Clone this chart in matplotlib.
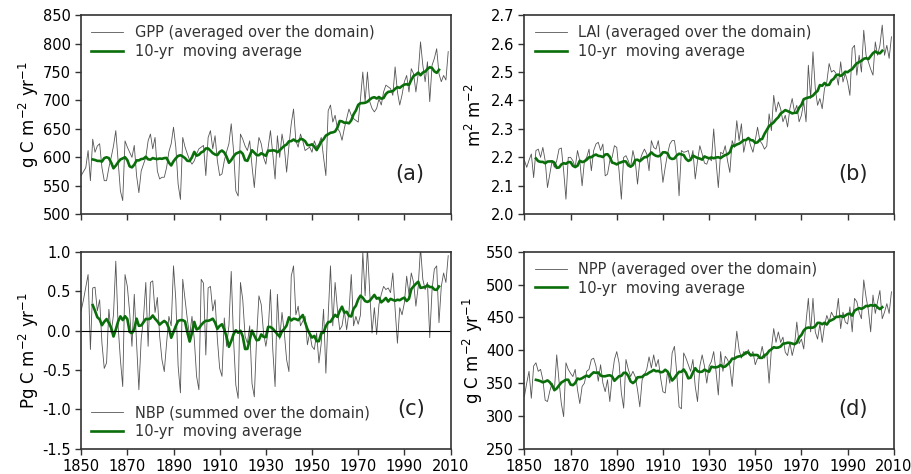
import numpy as np
import pandas as pd
import matplotlib
matplotlib.use("Agg")
import matplotlib.pyplot as plt

years = np.arange(1850, 2010)

# GPP, annual, g C m-2 yr-1
gpp = [568, 575, 582, 612, 559, 632, 609, 620, 624, 582,
       559, 559, 582, 600, 620, 647, 594, 541, 524, 629,
       618, 609, 600, 621, 568, 538, 576, 588, 600, 629,
       641, 615, 635, 576, 562, 565, 565, 582, 610, 624,
       653, 618, 553, 526, 635, 618, 606, 595, 588, 594,
       606, 615, 618, 621, 568, 635, 647, 615, 638, 594,
       568, 571, 594, 610, 624, 659, 612, 541, 532, 641,
       632, 620, 612, 629, 585, 547, 600, 635, 624, 600,
       588, 618, 647, 606, 562, 638, 600, 641, 618, 574,
       620, 659, 685, 629, 618, 641, 629, 612, 615, 618,
       609, 629, 618, 624, 635, 600, 568, 682, 692, 662,
       674, 651, 645, 630, 651, 668, 685, 674, 668, 665,
       662, 703, 750, 698, 750, 698, 686, 680, 686, 703,
       692, 715, 727, 724, 721, 709, 759, 715, 692, 710,
       733, 744, 715, 756, 747, 715, 747, 803, 762, 733,
       768, 698, 762, 774, 791, 747, 733, 744, 736, 786]

# LAI, annual, m2 m-2
lai = [2.19, 2.165, 2.19, 2.212, 2.129, 2.224, 2.229, 2.2, 2.235, 2.188,
       2.094, 2.141, 2.188, 2.165, 2.188, 2.229, 2.233, 2.153, 2.053, 2.2,
       2.2, 2.188, 2.165, 2.224, 2.188, 2.1, 2.188, 2.2, 2.229, 2.153,
       2.224, 2.247, 2.253, 2.224, 2.247, 2.135, 2.141, 2.188, 2.2, 2.241,
       2.235, 2.153, 2.053, 2.2, 2.206, 2.188, 2.165, 2.224, 2.188, 2.106,
       2.188, 2.212, 2.229, 2.212, 2.153, 2.259, 2.235, 2.229, 2.259, 2.2,
       2.112, 2.165, 2.212, 2.247, 2.259, 2.259, 2.2, 2.065, 2.224, 2.218,
       2.22, 2.224, 2.188, 2.224, 2.124, 2.188, 2.241, 2.212, 2.18, 2.176,
       2.2, 2.188, 2.3, 2.188, 2.094, 2.218, 2.212, 2.241, 2.188, 2.147,
       2.259, 2.235, 2.329, 2.259, 2.318, 2.218, 2.259, 2.271, 2.241, 2.218,
       2.26, 2.306, 2.259, 2.247, 2.229, 2.24, 2.353, 2.294, 2.418, 2.36,
       2.395, 2.371, 2.325, 2.348, 2.307, 2.371, 2.407, 2.36, 2.383, 2.325,
       2.348, 2.395, 2.325, 2.524, 2.407, 2.571, 2.442, 2.383, 2.407, 2.371,
       2.442, 2.465, 2.53, 2.5, 2.506, 2.495, 2.454, 2.536, 2.465, 2.495,
       2.465, 2.418, 2.583, 2.594, 2.489, 2.559, 2.5, 2.647, 2.559, 2.536,
       2.51, 2.489, 2.606, 2.559, 2.594, 2.665, 2.559, 2.594, 2.548, 2.624]

# NBP, annual
nbp = [0.25, 0.39, 0.55, 0.71, -0.24, 0.54, 0.55, 0.25, 0.39, -0.16,
       -0.48, -0.41, 0.27, -0.03, 0.2, 0.88, 0.06, -0.37, -0.71, 0.71,
       0.56, 0.23, -0.2, 0.46, -0.16, -0.75, -0.11, 0.16, 0.61, -0.2,
       0.61, 0.63, 0.23, 0.42, -0.07, -0.37, -0.52, -0.16, 0.18, 0.06,
       0.82, 0.39, -0.45, -0.79, 0.65, 0.39, 0.14, -0.07, 0.18, -0.11,
       -0.58, -0.75, 0.65, 0.6, -0.31, 0.54, 0.56, 0.25, 0.39, -0.11,
       -0.48, -0.58, 0.16, -0.2, 0.06, 0.75, -0.11, -0.69, -0.86, 0.61,
       0.39, -0.07, -0.16, 0.06, -0.67, -0.84, -0.09, 0.44, 0.33, -0.03,
       -0.2, -0.01, 0.52, -0.24, -0.71, 0.46, -0.11, 0.23, -0.03, -0.37,
       -0.52, 0.69, 0.82, 0.2, 0.31, 0.06, 0.12, 0.18, -0.18, -0.03,
       -0.2, -0.24, -0.03, -0.41, -0.16, 0.27, -0.54, 0.18, 0.82, 0.06,
       0.61, 0.27, 0.01, 0.06, 0.25, 0.01, 0.23, 0.71, 0.06, 0.18,
       0.08, 0.2, 0.99, 0.44, 1.05, 0.48, -0.03, 0.29, -0.05, 0.33,
       0.46, 0.56, 0.52, 0.54, 0.48, 0.73, 0.27, -0.16, 0.29, 0.2,
       0.35, 0.69, 0.46, 0.73, 0.61, 0.31, 0.56, 1.05, 0.65, 0.52,
       0.61, -0.09, 0.52, 0.78, 0.82, 0.1, 0.56, 0.73, 0.61, 0.95]

# NPP, annual, g C m-2 yr-1
npp = [330, 350, 368, 327, 376, 381, 368, 371, 355, 324,
       322, 338, 350, 340, 393, 353, 319, 299, 381, 371,
       365, 360, 371, 340, 319, 345, 350, 368, 371, 386,
       388, 376, 353, 378, 350, 337, 355, 322, 360, 386,
       398, 381, 335, 312, 386, 371, 360, 368, 360, 340,
       314, 355, 363, 371, 390, 373, 393, 375, 386, 358,
       337, 335, 368, 350, 396, 406, 365, 314, 311, 396,
       388, 378, 368, 386, 345, 322, 376, 393, 376, 350,
       376, 383, 398, 368, 332, 398, 368, 391, 386, 376,
       345, 391, 429, 401, 388, 398, 393, 401, 391, 398,
       378, 388, 388, 406, 388, 396, 350, 402, 433, 412,
       428, 412, 420, 397, 392, 412, 392, 407, 443, 410,
       417, 402, 443, 479, 428, 479, 428, 417, 440, 412,
       438, 453, 443, 458, 451, 451, 479, 433, 458, 443,
       440, 466, 428, 479, 474, 458, 448, 507, 481, 461,
       428, 484, 456, 474, 491, 448, 458, 471, 456, 489]

panels = [
    (gpp, "GPP (averaged over the domain)", r"g C m$^{-2}$ yr$^{-1}$", (500, 850), np.arange(500, 851, 50), "(a)", "upper left"),
    (lai, "LAI (averaged over the domain)", r"m$^{2}$ m$^{-2}$", (2.0, 2.7), np.arange(2.0, 2.71, 0.1), "(b)", "upper left"),
    (nbp, "NBP (summed over the domain)", r"Pg C m$^{-2}$ yr$^{-1}$", (-1.5, 1.0), np.arange(-1.5, 1.01, 0.5), "(c)", "lower left"),
    (npp, "NPP (averaged over the domain)", r"g C m$^{-2}$ yr$^{-1}$", (250, 550), np.arange(250, 551, 50), "(d)", "upper left"),
]

fig = plt.figure(figsize=(9.12, 4.74), dpi=100)
boxes = [[0.089, 0.548, 0.405, 0.42], [0.575, 0.548, 0.405, 0.42],
         [0.089, 0.053, 0.405, 0.416], [0.575, 0.053, 0.405, 0.416]]

for i, (vals, name, ylab, ylim, yt, tag, loc) in enumerate(panels):
    ax = fig.add_axes(boxes[i])
    s = pd.Series(vals, index=years)
    ma = s.rolling(10, center=True).mean()
    ax.plot(years, s.values, color="#555555", lw=0.6, label=name)
    ax.plot(years, ma.values, color="#0a6e0a", lw=1.9, label="10-yr  moving average")
    if tag == "(c)":
        ax.axhline(0, color="black", lw=0.8)
    ax.set_xlim(1850, 2010)
    ax.set_ylim(*ylim)
    ax.set_xticks(np.arange(1850, 2011, 20))
    ax.set_yticks(yt)
    if tag in ("(b)", "(c)"):
        ax.set_yticklabels(["%.1f" % v for v in yt])
    if i < 2:
        ax.set_xticklabels([])
    ax.tick_params(labelsize=10.5, length=4, width=1, color="#333333")
    for sp in ax.spines.values():
        sp.set_color("#333333")
        sp.set_linewidth(1.2)
    ax.set_ylabel(ylab, fontsize=12)
    ax.yaxis.set_label_coords(-0.108, 0.5)
    leg = ax.legend(loc=loc, frameon=False, fontsize=10.5, handlelength=2.2,
                    borderaxespad=0.3, labelspacing=0.25)
    for t in leg.get_texts():
        t.set_color("#333333")
    ax.text(0.93, 0.2, tag, transform=ax.transAxes, fontsize=15,
            ha="right", va="center", color="#222222")

fig.savefig("out.png", dpi=100)
